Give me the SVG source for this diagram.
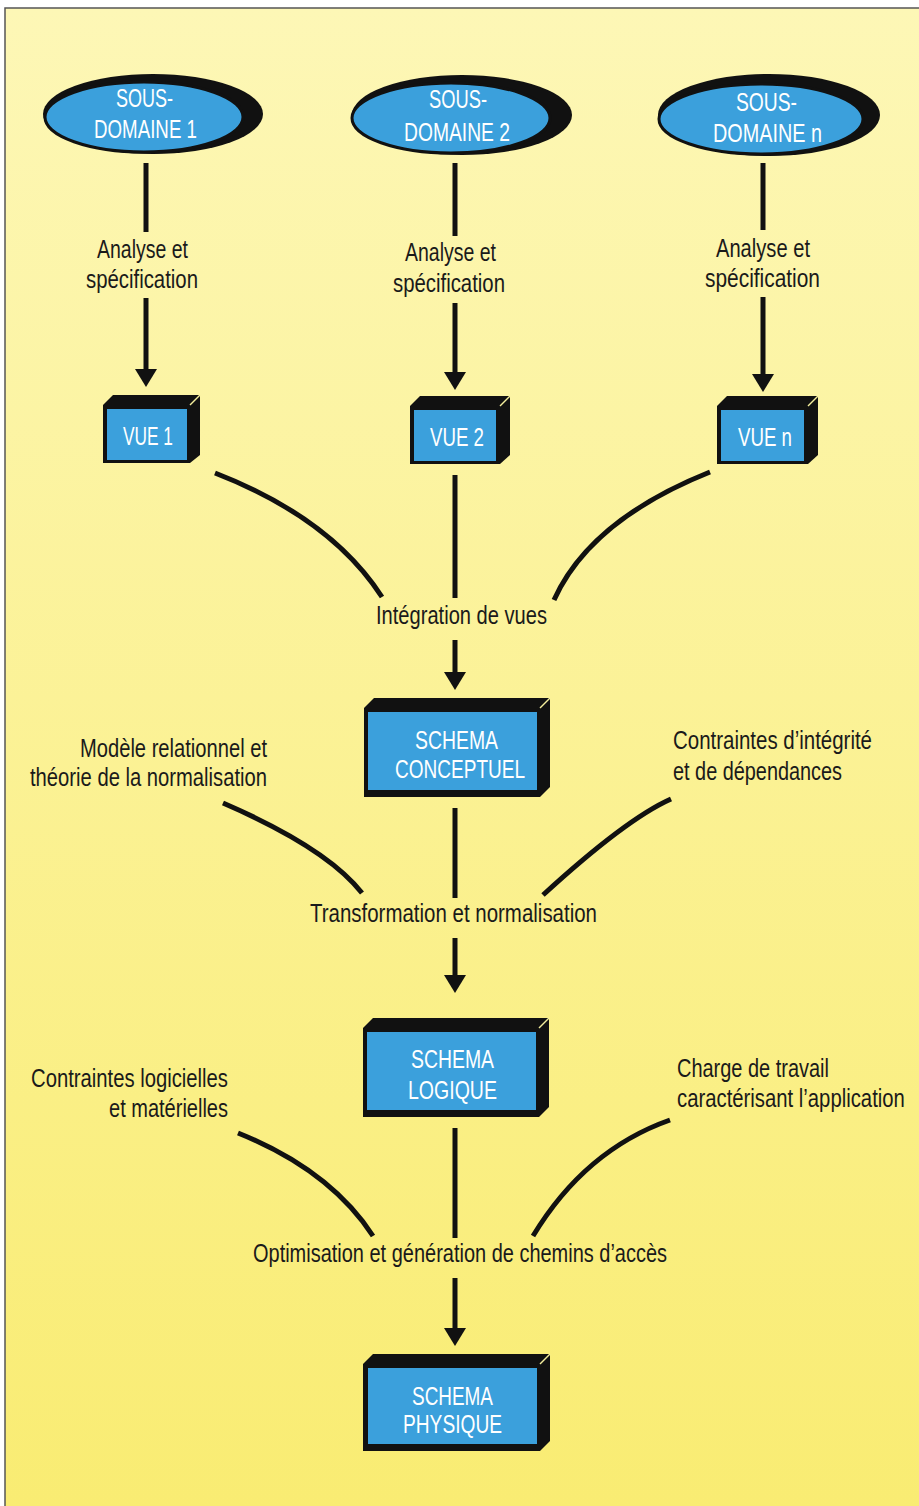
<svg xmlns="http://www.w3.org/2000/svg" width="919" height="1506" viewBox="0 0 919 1506">
<defs>
<linearGradient id="bg" x1="0" y1="0" x2="0" y2="1">
<stop offset="0" stop-color="#fdf7b6"/>
<stop offset="1" stop-color="#f9ec72"/>
</linearGradient>
<marker id="ah" markerWidth="18" markerHeight="22" viewBox="0 0 18 22" refX="1" refY="11" orient="auto" markerUnits="userSpaceOnUse">
<path d="M0,0 L18,11 L0,22 Z" fill="#111"/>
</marker>
<style>
.lbl{font-family:"Liberation Sans",Arial,sans-serif;font-size:25px;fill:#1a1a1a;}
.wt{font-family:"Liberation Sans",Arial,sans-serif;font-size:26px;fill:#ffffff;}
.blue{fill:#3ba0dc;}
.blk{fill:#111;}
.edge{stroke:#f4ee9c;stroke-width:1.5;fill:none;}
.ln{stroke:#111;stroke-width:5;fill:none;}
</style>
</defs>
<rect x="0" y="0" width="919" height="1506" fill="#ffffff"/>
<rect x="5" y="8" width="920" height="1510" fill="url(#bg)" stroke="#555" stroke-width="1.5"/>

<g id="connectors">
<line class="ln" x1="146" y1="163" x2="146" y2="232"/>
<line class="ln" x1="146" y1="298" x2="146" y2="370" marker-end="url(#ah)"/>
<line class="ln" x1="455" y1="163" x2="455" y2="236"/>
<line class="ln" x1="455" y1="303" x2="455" y2="373" marker-end="url(#ah)"/>
<line class="ln" x1="763" y1="163" x2="763" y2="230"/>
<line class="ln" x1="763" y1="297" x2="763" y2="375" marker-end="url(#ah)"/>
<path class="ln" d="M215,473 Q331,518 382,597"/>
<line class="ln" x1="455" y1="475" x2="455" y2="598"/>
<path class="ln" d="M710,472 Q590,520 554,600"/>
<line class="ln" x1="455" y1="640" x2="455" y2="673" marker-end="url(#ah)"/>
<path class="ln" d="M223,803 Q327,848 362,893"/>
<line class="ln" x1="455" y1="808" x2="455" y2="898"/>
<path class="ln" d="M671,799 Q626,819 543,895"/>
<line class="ln" x1="455" y1="938" x2="455" y2="976" marker-end="url(#ah)"/>
<path class="ln" d="M238,1133 Q330,1170 373,1236"/>
<line class="ln" x1="455" y1="1128" x2="455" y2="1238"/>
<path class="ln" d="M670,1120 Q585,1150 533,1236"/>
<line class="ln" x1="455" y1="1278" x2="455" y2="1329" marker-end="url(#ah)"/>
</g>

<g id="sd1">
<ellipse class="blk" cx="153" cy="114" rx="110" ry="40"/>
<ellipse class="blue" cx="144" cy="117" rx="99" ry="35" stroke="#111" stroke-width="3"/>
<text class="wt" x="116" y="107" textLength="57" lengthAdjust="spacingAndGlyphs">SOUS-</text>
<text class="wt" x="94" y="138" textLength="103" lengthAdjust="spacingAndGlyphs">DOMAINE 1</text>
</g>
<g id="sd2">
<ellipse class="blk" cx="462" cy="115" rx="110" ry="40"/>
<ellipse class="blue" cx="451" cy="118" rx="99" ry="35" stroke="#111" stroke-width="3"/>
<text class="wt" x="429" y="108" textLength="58" lengthAdjust="spacingAndGlyphs">SOUS-</text>
<text class="wt" x="404" y="141" textLength="106" lengthAdjust="spacingAndGlyphs">DOMAINE 2</text>
</g>
<g id="sdn">
<ellipse class="blk" cx="769" cy="115" rx="111" ry="41"/>
<ellipse class="blue" cx="761" cy="119" rx="102" ry="35" stroke="#111" stroke-width="3"/>
<text class="wt" x="736" y="111" textLength="61" lengthAdjust="spacingAndGlyphs">SOUS-</text>
<text class="wt" x="713" y="142" textLength="109" lengthAdjust="spacingAndGlyphs">DOMAINE n</text>
</g>

<g id="lbl-analyse">
<text class="lbl" x="97" y="258" textLength="91" lengthAdjust="spacingAndGlyphs">Analyse et</text>
<text class="lbl" x="86" y="288" textLength="112" lengthAdjust="spacingAndGlyphs">spécification</text>
<text class="lbl" x="405" y="261" textLength="91" lengthAdjust="spacingAndGlyphs">Analyse et</text>
<text class="lbl" x="393" y="292" textLength="112" lengthAdjust="spacingAndGlyphs">spécification</text>
<text class="lbl" x="716" y="257" textLength="94" lengthAdjust="spacingAndGlyphs">Analyse et</text>
<text class="lbl" x="705" y="287" textLength="115" lengthAdjust="spacingAndGlyphs">spécification</text>
</g>

<g id="vue1">
<path class="blk" d="M103,405 L113,395 L200,395 L200,455 L190,463 L103,463 Z"/>
<rect class="blue" x="107" y="409" width="80" height="51"/>
<line class="edge" x1="190" y1="405" x2="200" y2="395"/>
<text class="wt" x="123" y="445" textLength="50" lengthAdjust="spacingAndGlyphs">VUE 1</text>
</g>
<g id="vue2">
<path class="blk" d="M410,406 L420,396 L510,396 L510,455 L500,464 L410,464 Z"/>
<rect class="blue" x="414" y="410" width="82" height="51"/>
<line class="edge" x1="500" y1="406" x2="510" y2="396"/>
<text class="wt" x="430" y="446" textLength="54" lengthAdjust="spacingAndGlyphs">VUE 2</text>
</g>
<g id="vuen">
<path class="blk" d="M717,406 L727,396 L818,396 L818,455 L808,464 L717,464 Z"/>
<rect class="blue" x="721" y="410" width="83" height="51"/>
<line class="edge" x1="808" y1="406" x2="818" y2="396"/>
<text class="wt" x="738" y="446" textLength="54" lengthAdjust="spacingAndGlyphs">VUE n</text>
</g>

<g id="lbl-integration">
<text class="lbl" x="376" y="624" textLength="171" lengthAdjust="spacingAndGlyphs">Intégration de vues</text>
</g>

<g id="schema-conceptuel">
<path class="blk" d="M364,708 L374,698 L550,698 L550,787 L540,797 L364,797 Z"/>
<rect class="blue" x="368" y="712" width="169" height="78"/>
<line class="edge" x1="540" y1="708" x2="550" y2="698"/>
<text class="wt" x="415" y="749" textLength="83" lengthAdjust="spacingAndGlyphs">SCHEMA</text>
<text class="wt" x="395" y="778" textLength="130" lengthAdjust="spacingAndGlyphs">CONCEPTUEL</text>
</g>

<g id="lbl-modele">
<text class="lbl" x="80" y="757" textLength="187" lengthAdjust="spacingAndGlyphs">Modèle relationnel et</text>
<text class="lbl" x="30" y="786" textLength="237" lengthAdjust="spacingAndGlyphs">théorie de la normalisation</text>
</g>
<g id="lbl-contraintes-integrite">
<text class="lbl" x="673" y="749" textLength="199" lengthAdjust="spacingAndGlyphs">Contraintes d’intégrité</text>
<text class="lbl" x="673" y="780" textLength="169" lengthAdjust="spacingAndGlyphs">et de dépendances</text>
</g>
<g id="lbl-transformation">
<text class="lbl" x="310" y="922" textLength="287" lengthAdjust="spacingAndGlyphs">Transformation et normalisation</text>
</g>

<g id="schema-logique">
<path class="blk" d="M363,1028 L373,1018 L549,1018 L549,1107 L539,1117 L363,1117 Z"/>
<rect class="blue" x="367" y="1032" width="169" height="78"/>
<line class="edge" x1="539" y1="1028" x2="549" y2="1018"/>
<text class="wt" x="411" y="1068" textLength="83" lengthAdjust="spacingAndGlyphs">SCHEMA</text>
<text class="wt" x="408" y="1099" textLength="89" lengthAdjust="spacingAndGlyphs">LOGIQUE</text>
</g>

<g id="lbl-contraintes-logicielles">
<text class="lbl" x="31" y="1087" textLength="197" lengthAdjust="spacingAndGlyphs">Contraintes logicielles</text>
<text class="lbl" x="109" y="1117" textLength="119" lengthAdjust="spacingAndGlyphs">et matérielles</text>
</g>
<g id="lbl-charge">
<text class="lbl" x="677" y="1077" textLength="152" lengthAdjust="spacingAndGlyphs">Charge de travail</text>
<text class="lbl" transform="translate(677,1107) scale(0.812,1)" x="0" y="0">caractérisant l’application</text>
</g>
<g id="lbl-optimisation">
<text class="lbl" x="253" y="1262" textLength="414" lengthAdjust="spacingAndGlyphs">Optimisation et génération de chemins d’accès</text>
</g>

<g id="schema-physique">
<path class="blk" d="M363,1364 L373,1354 L550,1354 L550,1441 L540,1451 L363,1451 Z"/>
<rect class="blue" x="368" y="1368" width="169" height="76"/>
<line class="edge" x1="540" y1="1364" x2="550" y2="1354"/>
<text class="wt" x="412" y="1405" textLength="81" lengthAdjust="spacingAndGlyphs">SCHEMA</text>
<text class="wt" x="403" y="1433" textLength="99" lengthAdjust="spacingAndGlyphs">PHYSIQUE</text>
</g>
</svg>
